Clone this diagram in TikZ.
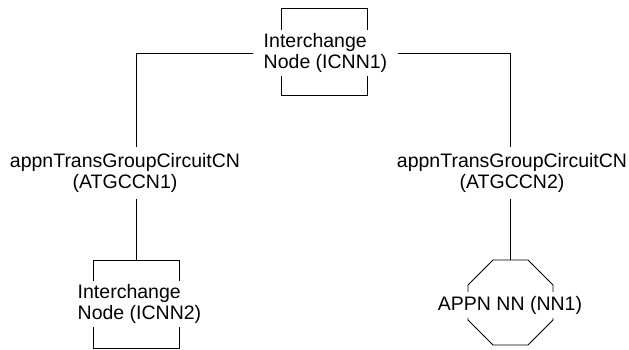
\documentclass[tikz,border=0pt]{standalone}
\usepackage{fontspec}
\setmainfont{Liberation Sans}
\usetikzlibrary{shapes.geometric}

\begin{document}
\begin{tikzpicture}[x=1pt, y=-1pt, line width=0.9pt,
  box node/.style={rectangle, draw, minimum width=86pt, minimum height=87.5pt, inner sep=0pt},
  oct node/.style={regular polygon, regular polygon sides=8, draw, minimum size=92pt, inner sep=0pt},
  label node/.style={fill=white, inner xsep=10pt, inner ysep=3.5pt, align=left},
  link node/.style={inner xsep=10pt, inner ysep=6pt, align=center}]
        \tikzstyle{every node}=[font=\fontsize{19.5}{21}\selectfont]
        \useasboundingbox (0,0) rectangle (629,350);

          % interchange nodes and network node
          \node[box node] (icnn1box) at (324,52) {};
          \node[label node] (icnn1) at (325.5,53.3) {Interchange\\Node (ICNN1)};
          \node[box node] (icnn2box) at (136.3,304.5) {};
          \node[label node] (icnn2) at (139.5,304) {Interchange\\Node (ICNN2)};
          \node[oct node] (nn1) at (510.5,302.5) {};
          \node[label node, inner xsep=2pt] (nn1txt) at (510,305) {APPN NN (NN1)};

          % transmission group circuits
          \node[link node] (atgccn1) at (125,173) {appnTransGroupCircuitCN\\(ATGCCN1)};
          \node[link node] (atgccn2) at (512,173) {appnTransGroupCircuitCN\\(ATGCCN2)};

          \draw (icnn1.west) -| (atgccn1.north -| icnn2box.north);
          \draw (atgccn1.south -| icnn2box.north) -- (icnn2box.north);
          \draw (icnn1.east) -| (atgccn2.north -| nn1.north);
          \draw (atgccn2.south -| nn1.north) -- (nn1.north);

        \end{tikzpicture}
\end{document}
